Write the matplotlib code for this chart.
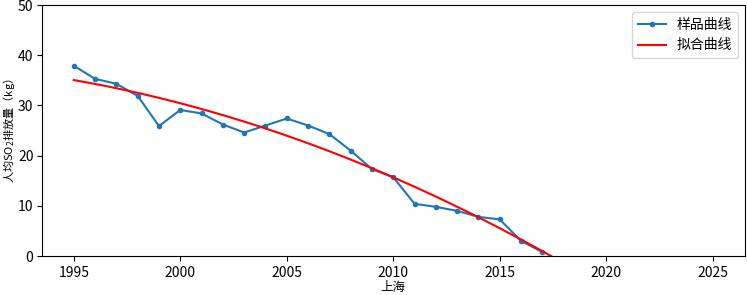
import matplotlib
matplotlib.use("Agg")
import matplotlib.pyplot as plt
import numpy as np

plt.rcParams["font.family"] = ["Noto Sans CJK SC", "DejaVu Sans"]
plt.rcParams["axes.unicode_minus"] = False

# ── Data ──────────────────────────────────────────────────────────────────────
years = [1995, 1996, 1997, 1998, 1999, 2000, 2001, 2002, 2003, 2004, 2005,
         2006, 2007, 2008, 2009, 2010, 2011, 2012, 2013, 2014, 2015, 2016, 2017]
so2_per_capita = [37.9, 35.3, 34.3, 31.9, 25.9, 29.1, 28.4, 26.2, 24.6, 26.0, 27.4,
                  26.0, 24.3, 21.0, 17.3, 15.7, 10.4, 9.8, 9.0, 7.8, 7.3, 3.0, 0.8]
fit_years = [1995, 2025]

# quadratic fit of the sample curve
coef = np.polyfit(years, so2_per_capita, 2)
xs = np.linspace(fit_years[0], fit_years[1], 300)
ys = np.polyval(coef, xs)

fig = plt.figure(figsize=(7.47, 2.95), dpi=100)
ax = fig.add_axes([0.056, 0.132, 0.941, 0.851])

ax.plot(years, so2_per_capita, color="#1f77b4", marker="o", markersize=3,
        linewidth=1.5, label="样品曲线")
ax.plot(xs, ys, color="red", linewidth=1.5, label="拟合曲线")

ax.set_ylim(0, 50)
ax.set_xlabel("上海", fontsize=9)
ax.set_ylabel("人均SO$_2$排放量（kg）", fontsize=8)
ax.xaxis.set_label_coords(0.5, -0.1)
ax.yaxis.set_label_coords(-0.035, 0.5)
ax.tick_params(labelsize=10)
ax.tick_params(axis="y", pad=2.5)
ax.legend(loc="upper right", fontsize=10)

fig.savefig("out.png", dpi=100)
